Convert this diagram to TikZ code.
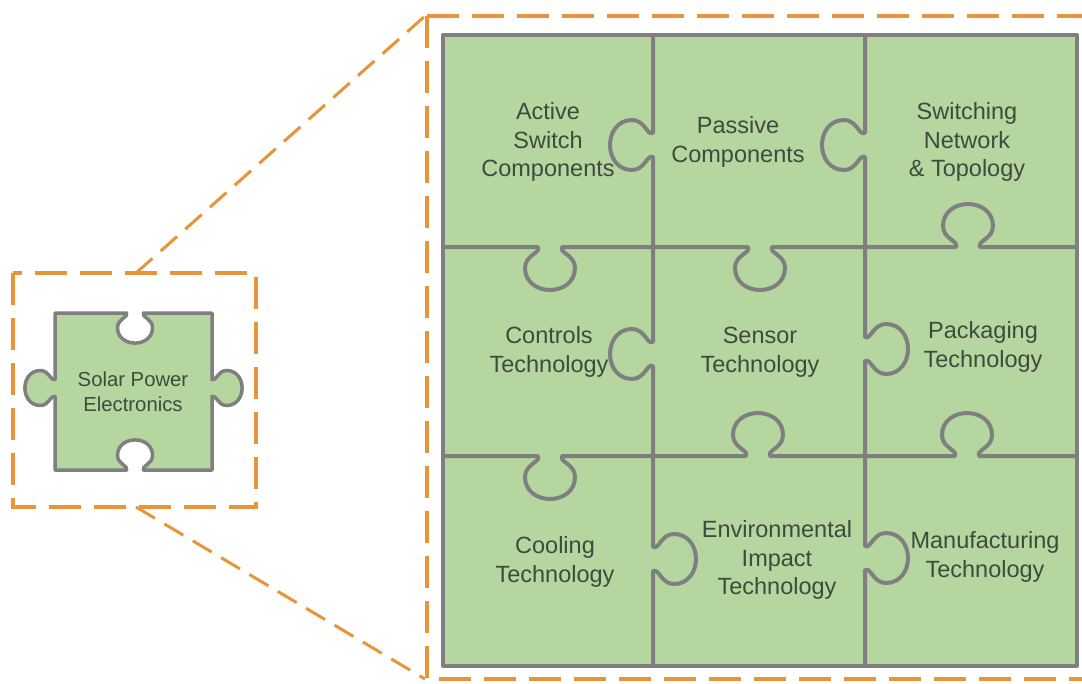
\documentclass[tikz,border=0pt]{standalone}
\usepackage{fontspec}
\setmainfont{Liberation Sans}
\definecolor{pz}{HTML}{B5D79F}
\definecolor{pline}{HTML}{7F7F7F}
\definecolor{orng}{HTML}{E8943A}
\definecolor{txt}{HTML}{3E4A3E}
% knob: centre (#1,#2) on the edge, #3 = orientation options
\newcommand\kn[3]{-- ([shift={(#1,#2)},#3]-12,0) .. controls ([shift={(#1,#2)},#3]-9,6) and ([shift={(#1,#2)},#3]-25,8) .. ([shift={(#1,#2)},#3]-25,21) .. controls ([shift={(#1,#2)},#3]-25,35) and ([shift={(#1,#2)},#3]-13,43) .. ([shift={(#1,#2)},#3]0,43) .. controls ([shift={(#1,#2)},#3]13,43) and ([shift={(#1,#2)},#3]25,35) .. ([shift={(#1,#2)},#3]25,21) .. controls ([shift={(#1,#2)},#3]25,8) and ([shift={(#1,#2)},#3]9,6) .. ([shift={(#1,#2)},#3]12,0)}
\begin{document}
\begin{tikzpicture}[x=1pt,y=-1pt,
  grid/.style={draw=pline,line width=4pt,line join=round,line cap=round},
  zoombox/.style={draw=orng,line width=4pt,dash pattern=on 32pt off 13pt},
  zoomline/.style={draw=orng,line width=3pt,dash pattern=on 22pt off 11pt},
  lbl/.style={text=txt,font=\fontsize{23.5}{28.5}\selectfont,align=center,inner sep=0pt},
  slbl/.style={text=txt,font=\fontsize{20.3}{25}\selectfont,align=center,inner sep=0pt}]
\useasboundingbox (0,0) rectangle (1082,683);
\fill[white] (0,0) rectangle (1082,683);
\clip (0,0) rectangle (1082,683);

% zoom frames
\coordinate (sTL) at (13,273);
\coordinate (sBR) at (256,507);
\coordinate (bTL) at (427,16);
\coordinate (bBR) at (1085,679);
\coordinate (sTop) at (136,273);
\coordinate (sBot) at (136,507);
\coordinate (bTop) at (425,16);
\coordinate (bBot) at (425,679);
\draw[zoombox] (sTL) rectangle (sBR);
\draw[zoombox] (bTL) rectangle (bBR);
\draw[zoomline] (sTop) -- (bTop);
\draw[zoomline] (sBot) -- (bBot);

% small piece
\draw[grid,line width=3.5pt,fill=pz] (55,313) \kn{135}{313}{scale=0.7} -- (212,313)
  \kn{212}{388}{rotate=270,yscale=-1,scale=0.7} -- (212,470)
  \kn{135}{470}{rotate=180,scale=0.7} -- (55,470)
  \kn{55}{388}{rotate=90,yscale=-1,scale=0.7} -- cycle;
\node[slbl] (spe) at (133,392) {Solar Power\\Electronics};

% big puzzle
\fill[pz] (443,35) rectangle (1077,666);
\draw[grid] (653,35) \kn{653}{145}{rotate=270} \kn{653}{354}{rotate=270}
  \kn{653}{559}{rotate=270,yscale=-1} -- (653,666);
\draw[grid] (865,35) \kn{865}{145}{rotate=270} \kn{865}{349}{rotate=270,yscale=-1}
  \kn{865}{558}{rotate=270,yscale=-1} -- (865,666);
\draw[grid] (443,247) \kn{550}{247}{} \kn{760}{247}{} \kn{968}{247}{yscale=-1} -- (1077,247);
\draw[grid] (443,456) \kn{550}{456}{} \kn{758}{456}{yscale=-1} \kn{967}{456}{yscale=-1} -- (1077,456);
\draw[grid] (443,35) rectangle (1077,666);

\node[lbl] (active) at (548,142) {Active\\Switch\\Components};
\node[lbl] (passive) at (738,142) {Passive\\Components};
\node[lbl] (switching) at (967,142) {Switching\\Network\\\& Topology};
\node[lbl] (controls) at (549,352) {Controls\\Technology};
\node[lbl] (sensor) at (760,352) {Sensor\\Technology};
\node[lbl] (packaging) at (983,347) {Packaging\\Technology};
\node[lbl] (cooling) at (555,562) {Cooling\\Technology};
\node[lbl] (env) at (777,560) {Environmental\\Impact\\Technology};
\node[lbl] (manuf) at (985,557) {Manufacturing\\Technology};
\end{tikzpicture}
\end{document}
